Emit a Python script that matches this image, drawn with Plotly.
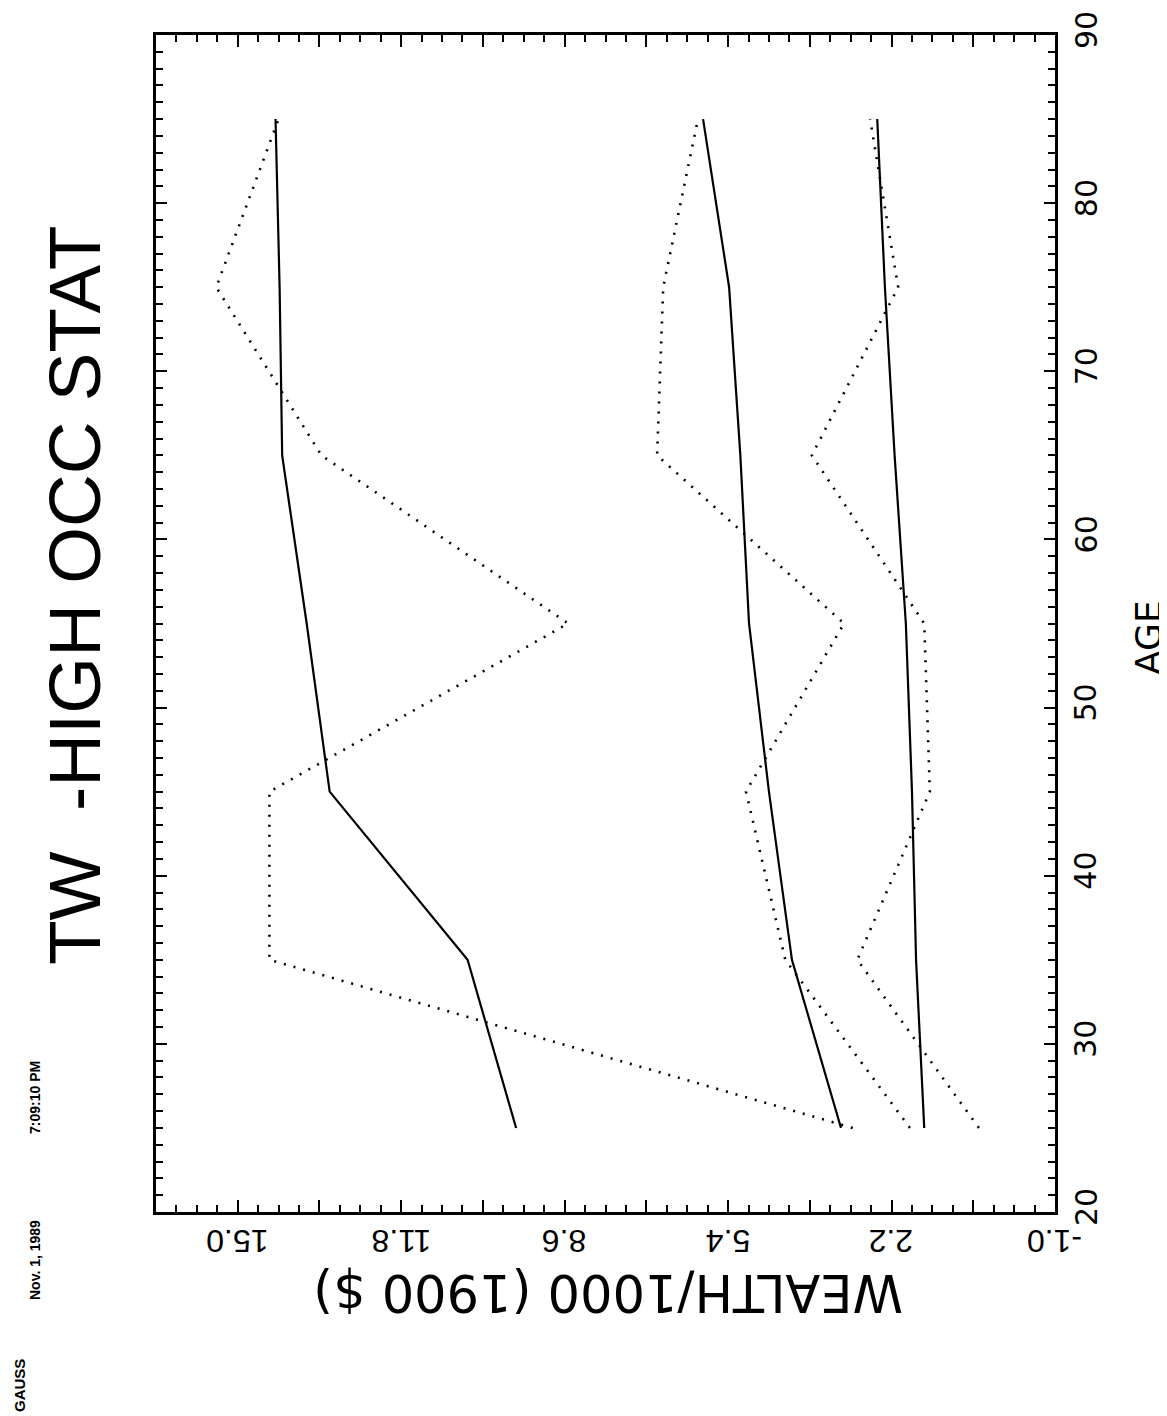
import plotly.graph_objects as go

# ---- data ----
ages = [25, 35, 45, 55, 65, 75, 85]
solid_high = [9.55, 10.50, 13.20, 13.65, 14.13, 14.18, 14.26]
dotted_high = [2.96, 14.38, 14.38, 8.53, 13.36, 15.42, 14.20]
solid_mid = [3.19, 4.15, 4.60, 4.99, 5.16, 5.38, 5.89]
dotted_mid = [1.84, 4.28, 5.05, 3.13, 6.79, 6.67, 5.99]
solid_low = [1.56, 1.72, 1.80, 1.92, 2.14, 2.33, 2.48]
dotted_low = [0.49, 2.87, 1.45, 1.56, 3.76, 2.07, 2.62]

wealth_major = [-1.0, 0.6, 2.2, 3.8, 5.4, 7.0, 8.6, 10.2, 11.8, 13.4, 15.0, 16.6]
wealth_labelvals = [-1.0, 2.2, 5.4, 8.6, 11.8, 15.0]
wealth_labeltext = ["-1.0", "2.2", "5.4", "8.6", "11.8", "15.0"]
age_tickvals = [20, 30, 40, 50, 60, 70, 80, 90]
age_ticktext = ["20", "30", "40", "50", "60", "70", "80", "90"]

title_text = "TW  -HIGH OCC STAT"
xlabel_text = "WEALTH/1000 (1900 $)"
ylabel_text = "AGE"

# ---- layout geometry (pixels) ----
W, H = 1167, 1416
L, R, T, B = 148, 120, 27, 212
PW, PH = W - L - R, H - T - B


def px_x(xp):
    return (xp - L) / PW


def px_y(yp):
    return (H - B - yp) / PH


SANS = "Liberation Sans, Arial, DejaVu Sans, sans-serif"
WIDE = "DejaVu Sans, Verdana, sans-serif"

fig = go.Figure()
solid = dict(color="black", width=2.2)
dotted = dict(color="black", width=2.6, dash="2px,8px")
for xs, st in [(solid_high, solid), (dotted_high, dotted), (solid_mid, solid),
               (dotted_mid, dotted), (solid_low, solid), (dotted_low, dotted)]:
    fig.add_trace(go.Scatter(x=xs, y=ages, mode="lines", line=st,
                             showlegend=False, hoverinfo="skip"))

fig.update_layout(
    width=W, height=H,
    margin=dict(l=L, r=R, t=T, b=B, pad=0),
    paper_bgcolor="white", plot_bgcolor="white",
    showlegend=False,
)

fig.update_xaxes(
    range=[16.6, -1.0], tickmode="array", tickvals=wealth_major, showticklabels=False,
    ticks="inside", ticklen=12, tickwidth=2, tickcolor="black",
    showline=True, linewidth=2.6, linecolor="black", mirror="ticks",
    showgrid=False, zeroline=False,
    minor=dict(tickmode="linear", tick0=-1.0, dtick=0.4, ticks="inside", ticklen=7,
               tickwidth=1.5, tickcolor="black", showgrid=False),
)
fig.update_yaxes(
    range=[20, 90], side="right", tickmode="array", tickvals=age_tickvals, showticklabels=False,
    ticks="inside", ticklen=11, tickwidth=2, tickcolor="black",
    showline=True, linewidth=2.6, linecolor="black", mirror="ticks",
    showgrid=False, zeroline=False,
    minor=dict(tickmode="linear", tick0=20, dtick=1, ticks="inside", ticklen=7,
               tickwidth=2, tickcolor="black", showgrid=False),
)

# tick labels, placed on the axes' own data coordinates
for v, t in zip(wealth_labelvals, wealth_labeltext):
    fig.add_annotation(text=t, x=v, xref="x", y=px_y(1233), yref="paper",
                       xanchor="center", yanchor="middle", showarrow=False,
                       textangle=180, font=dict(family=SANS, size=32, color="black"))
for v, t in zip(age_tickvals, age_ticktext):
    fig.add_annotation(text=t, y=v, yref="y", x=px_x(1078), xref="paper",
                       xanchor="center", yanchor="middle", showarrow=False, yshift=5,
                       textangle=-90, font=dict(family=WIDE, size=30, color="black"))


def note(text, xp, yp, size, angle, family=SANS, bold=False):
    fig.add_annotation(
        text=("<b>%s</b>" % text) if bold else text,
        x=px_x(xp), y=px_y(yp), xref="paper", yref="paper",
        xanchor="center", yanchor="middle",
        showarrow=False, textangle=angle,
        font=dict(family=family, size=size, color="black"),
    )


note(title_text, 66, 588, 73, -90)
note(xlabel_text, 600, 1285, 51, 180, family=WIDE)
note(ylabel_text, 1140, 630, 36, -90, family=WIDE)
note("GAUSS", 11, 1378, 15, -90, bold=True)
note("Nov. 1, 1989", 27, 1252, 14, -90, bold=True)
note("7:09:10 PM", 27, 1090, 14, -90, bold=True)

fig.write_html("out.html")
